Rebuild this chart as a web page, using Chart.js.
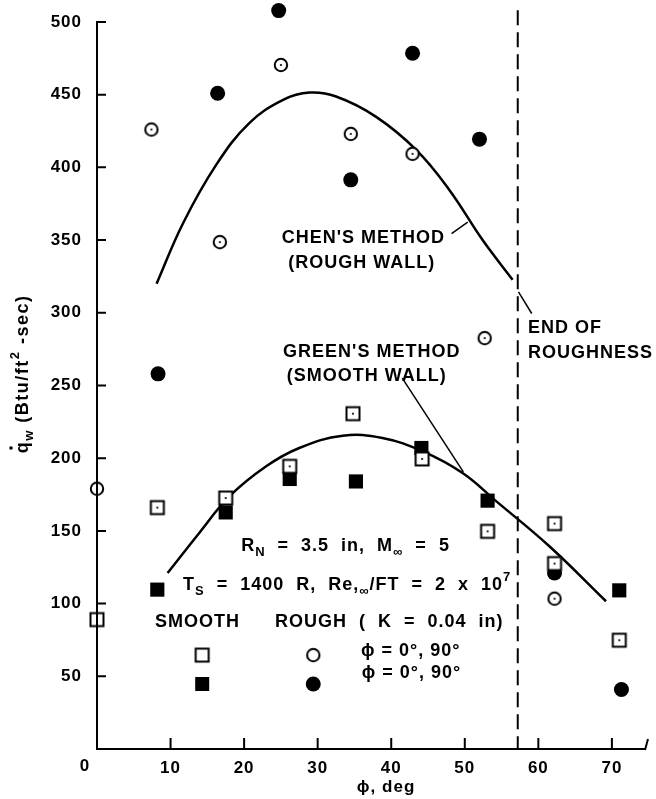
<!DOCTYPE html>
<html>
<head>
<meta charset="utf-8">
<script src="https://cdn.jsdelivr.net/npm/chart.js@4.4.1/dist/chart.umd.min.js"></script>
<style>
  html, body { margin: 0; padding: 0; background: #fff; }
  #wrap { width: 656px; height: 799px; position: relative; }
</style>
</head>
<body>
<div id="wrap"><canvas id="heatChart"></canvas></div>
<script>
// phi (deg) and wall heating rate q_w (Btu/ft^2-sec)
const smoothOpenPhi = [0, 8.2, 17.5, 26.2, 34.8, 44.2, 53.1, 62.2, 62.2, 71.0];
const smoothOpenQ = [89, 166, 172.6, 194.4, 230.6, 199.5, 149.7, 155, 127.5, 74.8];

const smoothFilledPhi = [8.2, 17.5, 26.2, 35.2, 44.1, 53.1, 71.0];
const smoothFilledQ = [109.6, 162.7, 185.7, 184, 207, 170.8, 109.1];

const roughOpenPhi = [0, 7.4, 16.7, 25.0, 34.5, 42.9, 52.7, 62.2];
const roughOpenQ = [179, 426, 348.6, 470.4, 423, 409.3, 282.6, 103.4];

const roughFilledPhi = [8.3, 16.4, 24.7, 34.5, 42.9, 52.0, 62.2, 71.3];
const roughFilledQ = [258, 451, 507.8, 391.4, 478.5, 419.4, 121, 40.9];

// theory curves
const chenPhi = [8.1, 11.7, 16.2, 20.7, 25.3, 28.9, 32.5, 37.9, 43.4, 47.9, 52.4, 56.5];
const chenQ = [320, 361.6, 401.7, 430.4, 446.4, 451.4, 448.7, 434.9, 412, 384.5, 350.2, 322.7];

const greenPhi = [9.6, 13.9, 18.0, 23.0, 27.5, 33.4, 38.8, 44.3, 49.7, 54.3, 61.5, 69.2];
const greenQ = [121, 148.6, 173.7, 194.4, 207, 215.5, 213.9, 204.7, 189.8, 170.3, 139.4, 101.6];

const endRoughPhi = 57.2;
const endRoughTop = 508;

const xMax = 74.5;
const yMax = 512;     // room above the 500 tick for the highest point
const yAxisTop = 500; // drawn axis stops here

const FONT = '"Liberation Sans", Arial, Helvetica, sans-serif';

function pts(xs, ys) {
    return xs.map((x, i) => ({ x: x, y: ys[i] }));
}

function marker(shape, dot) {
    const c = document.createElement('canvas');
    c.width = 18; c.height = 18;
    const g = c.getContext('2d');
    g.lineWidth = 2;
    g.strokeStyle = '#000';
    g.fillStyle = '#fff';
    g.beginPath();
    if (shape === 'circle') g.arc(9, 9, 6.2, 0, Math.PI * 2);
    else g.rect(2.5, 2.5, 13, 13);
    g.fill();
    g.stroke();
    if (dot) {
        g.fillStyle = '#000';
        g.beginPath();
        g.arc(9, 9, 1.1, 0, Math.PI * 2);
        g.fill();
    }
    return c;
}

const openSquareDot = marker('square', true);
const openCircleDot = marker('circle', true);
const openSquare = marker('square', false);
const openCircle = marker('circle', false);

// text pieces: [text, kind]  kind: '' normal, 'b' subscript, 'p' superscript
function fontFor(kind, size) {
    return 'bold ' + (kind ? Math.round(size * 0.72) : size) + 'px ' + FONT;
}

function rich(ctx, parts, x, y, size) {
    size = size || 18;
    let cx = x;
    parts.forEach(function(p) {
        const k = p[1] || '';
        ctx.font = fontFor(k, size);
        const dy = k === 'b' ? 6 : (k === 'p' ? -8 : 0);
        ctx.fillText(p[0], cx, y + dy);
        cx += ctx.measureText(p[0]).width;
    });
    return cx - x;
}

function richWidth(ctx, parts, size) {
    size = size || 18;
    let w = 0;
    parts.forEach(function(p) {
        ctx.font = fontFor(p[1] || '', size);
        w += ctx.measureText(p[0]).width;
    });
    return w;
}

// annotations placed in data units (phi, q)
const notes = [
    { at: [25.1, 351.2], parts: [["CHEN'S METHOD"]] },
    { at: [26.0, 334.0], parts: [["(ROUGH WALL)"]] },
    { at: [25.3, 272.9], parts: [["GREEN'S METHOD"]] },
    { at: [25.8, 256.4], parts: [["(SMOOTH WALL)"]] },
    { at: [58.6, 289.3], parts: [["END OF"]] },
    { at: [58.6, 272.2], parts: [["ROUGHNESS"]] },
    { at: [19.6, 139.5], parts: [["R"], ["N", 'b'], ["  =  3.5  in,  M"], ["\u221E", 'b'], ["  =  5"]] },
    { at: [11.7, 112.7], parts: [["T"], ["S", 'b'], ["  =  1400  R,  Re,"], ["\u221E", 'b'], ["/FT  =  2  x  10"], ["7", 'p']] },
    { at: [7.9, 87.3], parts: [["SMOOTH"]] },
    { at: [24.2, 87.3], parts: [["ROUGH  (  K  =  0.04  in)"]] },
    { at: [35.9, 67.4], parts: [["\u03D5 = 0\u00B0, 90\u00B0"]] },
    { at: [36.0, 52.2], parts: [["\u03D5 = 0\u00B0, 90\u00B0"]] }
];

const keyMarks = [
    { at: [14.3, 64.6], img: openSquare },
    { at: [29.4, 64.6], img: openCircle },
    { at: [14.3, 44.7], shape: 'square' },
    { at: [29.4, 44.7], shape: 'circle' }
];

const leaders = [
    [[48.2, 354.4], [50.4, 362.4]],
    [[41.5, 255.0], [49.8, 190.6]],
    [[57.3, 314.3], [59.1, 299.5]]
];

const figurePlugin = {
    id: 'figure',
    beforeDraw: function(chart) {
        chart.ctx.letterSpacing = '1px';
    },
    afterDraw: function(chart) {
        const ctx = chart.ctx;
        const xs = chart.scales.x, ys = chart.scales.y;
        const X = v => xs.getPixelForValue(v);
        const Y = v => ys.getPixelForValue(v);
        const area = chart.chartArea;
        ctx.save();
        ctx.letterSpacing = '1px';
        ctx.strokeStyle = '#000';
        ctx.fillStyle = '#000';

        // y axis line, stops at 500
        ctx.lineWidth = 2;
        ctx.beginPath();
        ctx.moveTo(area.left, Y(0) + 1);
        ctx.lineTo(area.left, Y(yAxisTop) - 1);
        ctx.stroke();

        // inward tick marks
        ctx.beginPath();
        ys.ticks.forEach(t => {
            if (t.value === 0) return;
            ctx.moveTo(area.left, Y(t.value));
            ctx.lineTo(area.left + 9, Y(t.value));
        });
        xs.ticks.forEach(t => {
            if (t.value === 0) return;
            ctx.moveTo(X(t.value), area.bottom);
            ctx.lineTo(X(t.value), area.bottom - 11);
        });
        ctx.moveTo(X(xMax), area.bottom + 1);
        ctx.lineTo(X(xMax) + 3, area.bottom - 10);
        ctx.stroke();

        // leader lines
        ctx.lineWidth = 1.5;
        leaders.forEach(l => {
            ctx.beginPath();
            ctx.moveTo(X(l[0][0]), Y(l[0][1]));
            ctx.lineTo(X(l[1][0]), Y(l[1][1]));
            ctx.stroke();
        });

        // annotation text
        ctx.textAlign = 'left';
        ctx.textBaseline = 'middle';
        notes.forEach(n => rich(ctx, n.parts, X(n.at[0]), Y(n.at[1])));

        // key symbols
        keyMarks.forEach(m => {
            const px = X(m.at[0]), py = Y(m.at[1]);
            if (m.img) {
                ctx.drawImage(m.img, px - 9, py - 9);
            } else if (m.shape === 'square') {
                ctx.fillRect(px - 7, py - 7, 14, 14);
            } else {
                ctx.beginPath();
                ctx.arc(px, py, 7.5, 0, Math.PI * 2);
                ctx.fill();
            }
        });

        // origin label
        ctx.textAlign = 'center';
        ctx.font = 'bold 17px ' + FONT;
        ctx.fillText('0', area.left - 12, area.bottom + 17);

        // x axis title
        ctx.font = 'bold 17px ' + FONT;
        ctx.fillText('\u03D5, deg', X(39.3), area.bottom + 38);

        // y axis title, rotated
        const title = [["q"], ["w", 'b'], [" (Btu/ft"], ["2", 'p'], [" -sec)"]];
        ctx.letterSpacing = '1.5px';
        ctx.translate(23, Y(258));
        ctx.rotate(-Math.PI / 2);
        ctx.textAlign = 'left';
        const w = richWidth(ctx, title, 18);
        rich(ctx, title, -w / 2, 0, 18);
        ctx.font = fontFor('', 18);
        const qw = ctx.measureText('q').width;
        ctx.beginPath();
        ctx.arc(-w / 2 + qw / 2 - 1, -12, 1.8, 0, Math.PI * 2);
        ctx.fill();
        ctx.restore();
    }
};

Chart.defaults.font.family = FONT;
Chart.defaults.color = '#000';

const lineStyle = {
    showLine: true,
    tension: 0.4,
    borderColor: '#000',
    borderWidth: 2.5,
    pointRadius: 0,
    clip: false
};

const ctx = document.getElementById('heatChart').getContext('2d');
const heatChart = new Chart(ctx, {
    type: 'scatter',
    data: {
        datasets: [
            {
                label: 'Smooth, open',
                data: pts(smoothOpenPhi, smoothOpenQ),
                pointStyle: openSquareDot,
                pointRadius: 8,
                clip: false
            },
            {
                label: 'Rough, open',
                data: pts(roughOpenPhi, roughOpenQ),
                pointStyle: openCircleDot,
                pointRadius: 8,
                clip: false
            },
            {
                label: 'Smooth, filled',
                data: pts(smoothFilledPhi, smoothFilledQ),
                pointStyle: 'rect',
                pointRadius: 10,
                backgroundColor: '#000',
                borderColor: '#000',
                borderWidth: 0,
                clip: false
            },
            {
                label: 'Rough, filled',
                data: pts(roughFilledPhi, roughFilledQ),
                pointStyle: 'circle',
                pointRadius: 7.5,
                backgroundColor: '#000',
                borderColor: '#000',
                borderWidth: 0,
                clip: false
            },
            Object.assign({ label: "Chen's method", data: pts(chenPhi, chenQ) }, lineStyle),
            Object.assign({ label: "Green's method", data: pts(greenPhi, greenQ) }, lineStyle),
            {
                label: 'End of roughness',
                data: [{ x: endRoughPhi, y: endRoughTop }, { x: endRoughPhi, y: 0 }],
                showLine: true,
                borderColor: '#000',
                borderWidth: 2,
                borderDash: [15, 7],
                pointRadius: 0,
                clip: false
            }
        ]
    },
    options: {
        responsive: true,
        maintainAspectRatio: false,
        animation: false,
        events: [],
        layout: { autoPadding: false, padding: { top: 4.5, right: 11, left: 0, bottom: 0 } },
        plugins: {
            legend: { display: false },
            tooltip: { enabled: false }
        },
        scales: {
            x: {
                type: 'linear',
                min: 0,
                max: xMax,
                grid: { display: true, drawOnChartArea: false, drawTicks: false },
                border: { display: true, color: '#000', width: 2 },
                ticks: {
                    stepSize: 10,
                    includeBounds: false,
                    padding: 9,
                    maxRotation: 0,
                    font: { size: 17, weight: 'bold' },
                    callback: v => v === 0 ? '' : v
                },
                afterFit: s => {
                    s.height = 50;
                    s.paddingLeft = 0;
                    s.paddingRight = 0;
                }
            },
            y: {
                type: 'linear',
                min: 0,
                max: yMax,
                grid: { display: true, drawOnChartArea: false, drawTicks: false },
                border: { display: false },
                ticks: {
                    stepSize: 50,
                    includeBounds: false,
                    padding: 15,
                    font: { size: 17, weight: 'bold' },
                    callback: v => v === 0 ? '' : v
                },
                afterFit: s => {
                    s.width = 97;
                    s.paddingTop = 0;
                    s.paddingBottom = 0;
                }
            }
        }
    },
    plugins: [figurePlugin]
});
</script>
</body>
</html>
